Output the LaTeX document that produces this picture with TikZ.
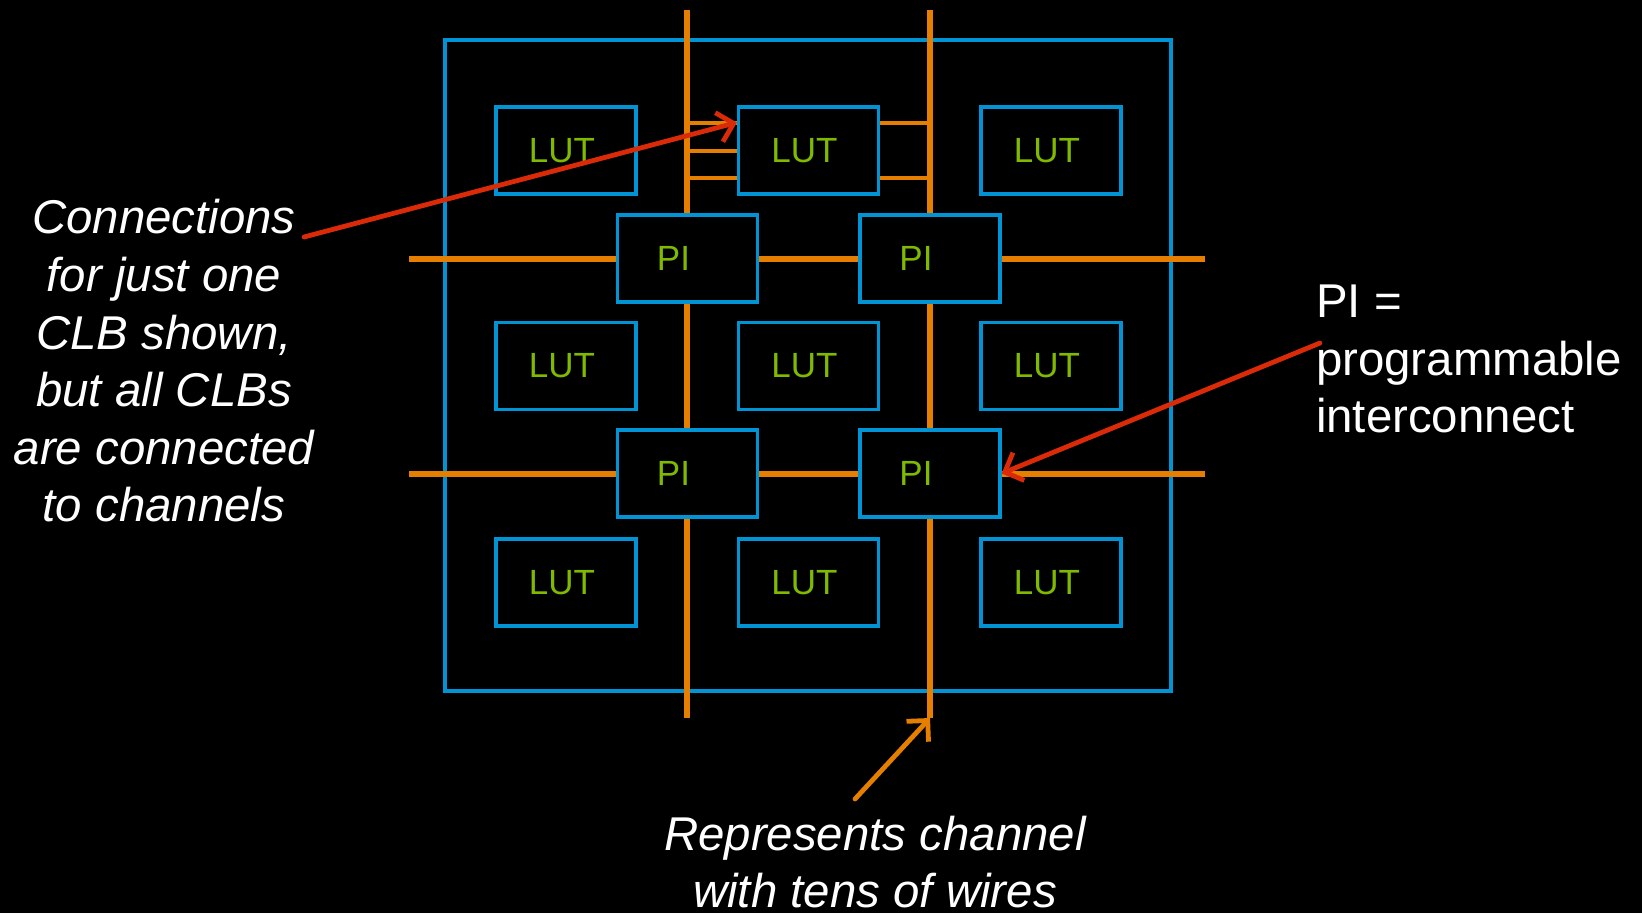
\documentclass[tikz,border=0pt]{standalone}
\usepackage{fontspec}
\setmainfont{Liberation Sans}
\usetikzlibrary{arrows.meta}
\definecolor{chipblue}{RGB}{0,148,212}
\definecolor{wireorange}{RGB}{230,126,0}
\definecolor{lutgreen}{RGB}{128,186,0}
\definecolor{notered}{RGB}{218,42,8}

\begin{document}
\begin{tikzpicture}[x=0.5pt, y=-0.5pt,
	every node/.style={text=white, font=\fontsize{23.7}{28.8}\selectfont},
	note/.style={align=center, font=\fontsize{23.7}{28.8}\selectfont\itshape},
	blk/.style={draw=chipblue, line width=1.6pt, fill=black, minimum width=70pt, minimum height=43.5pt, inner sep=0pt, text=lutgreen, font=\fontsize{17.5}{20}\selectfont},
	chan/.style={wireorange, line width=2.9pt},
	stub/.style={wireorange, line width=2pt},
	>={Straight Barb[length=7.5pt, width=15pt]}]
	\fill[black] (0,0) rectangle (1642,913);
	\draw[chipblue, line width=1.6pt] (445,40) rectangle (1171,691);
	\coordinate (v1-top) at (687,10);
	\coordinate (v1-bot) at (687,718);
	\coordinate (v2-top) at (930,10);
	\coordinate (v2-bot) at (930,718);
	\coordinate (h1-w) at (409,259);
	\coordinate (h1-e) at (1205,259);
	\coordinate (h2-w) at (409,474);
	\coordinate (h2-e) at (1205,474);
	\draw[chan] (v1-top) -- (v1-bot);
	\draw[chan] (v2-top) -- (v2-bot);
	\draw[chan] (h1-w) -- (h1-e);
	\draw[chan] (h2-w) -- (h2-e);
	\node[blk] (lut11) at (566,150.5) {LUT\hspace*{4pt}};
	\node[blk] (lut12) at (808.5,150.5) {LUT\hspace*{4pt}};
	\node[blk] (lut13) at (1051,150.5) {LUT\hspace*{4pt}};
	\node[blk] (lut21) at (566,366) {LUT\hspace*{4pt}};
	\node[blk] (lut22) at (808.5,366) {LUT\hspace*{4pt}};
	\node[blk] (lut23) at (1051,366) {LUT\hspace*{4pt}};
	\node[blk] (lut31) at (566,582.5) {LUT\hspace*{4pt}};
	\node[blk] (lut32) at (808.5,582.5) {LUT\hspace*{4pt}};
	\node[blk] (lut33) at (1051,582.5) {LUT\hspace*{4pt}};
	\node[blk] (pi11) at (687.5,258.5) {PI\hspace*{14pt}};
	\node[blk] (pi12) at (930,258.5) {PI\hspace*{14pt}};
	\node[blk] (pi21) at (687.5,473.5) {PI\hspace*{14pt}};
	\node[blk] (pi22) at (930,473.5) {PI\hspace*{14pt}};
	\draw[stub] ([yshift=14pt]lut12.west) -- ++(-51,0);
	\draw[stub] (lut12.west) -- ++(-51,0);
	\draw[stub] ([yshift=-13.75pt]lut12.west) -- ++(-51,0);
	\draw[stub] ([yshift=14pt]lut12.east) -- ++(51,0);
	\draw[stub] ([yshift=-13.75pt]lut12.east) -- ++(51,0);
	\node[note] (conn-note) at (164,361) {Connections\\for just one\\CLB shown,\\but all CLBs\\are connected\\to channels};
	\node[anchor=west, align=left] (pi-key) at (1309,359) {PI =\\programmable\\interconnect};
	\node[note] (chan-note) at (875,862) {Represents channel\\with tens of wires};
	\coordinate (conn-tail) at (304,237);
	\coordinate (key-tail) at (1320,343);
	\coordinate (chan-tail) at (855,799);
	\draw[->, notered, line width=2.4pt, line cap=round] (conn-tail) -- ([yshift=14pt]lut12.west);
	\draw[->, notered, line width=2.4pt, line cap=round] (key-tail) -- (pi22.east);
	\draw[->, wireorange, line width=2.4pt, line cap=round] (chan-tail) -- (v2-bot);
\end{tikzpicture}
\end{document}
